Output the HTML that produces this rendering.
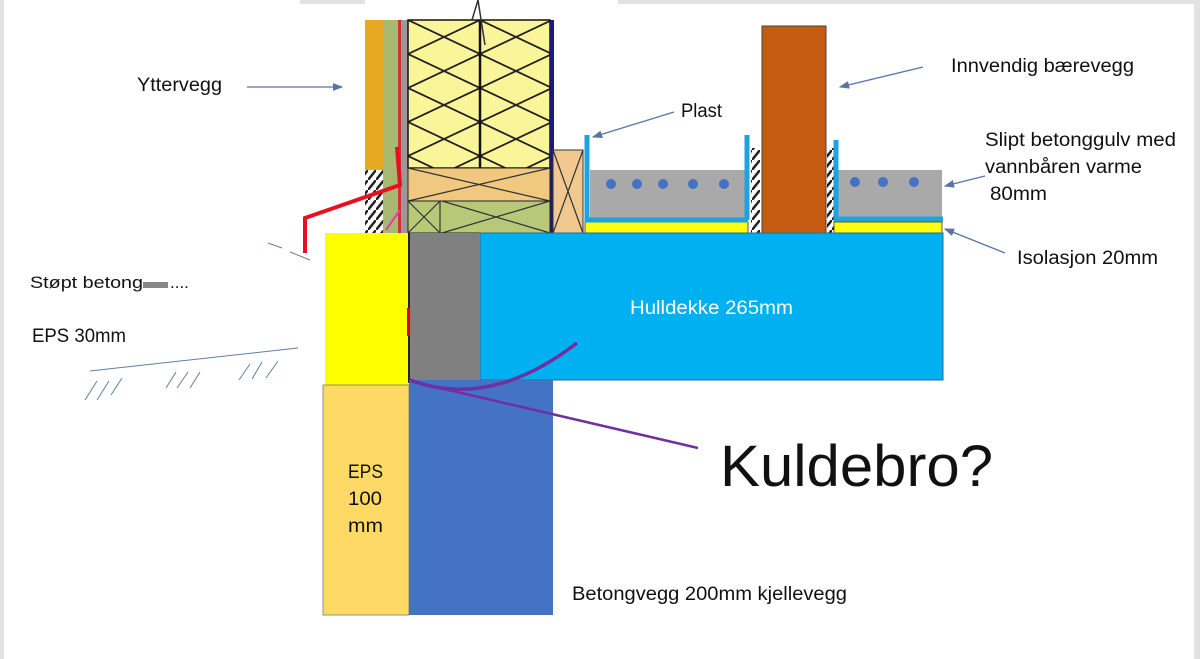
<!DOCTYPE html>
<html><head><meta charset="utf-8"><style>
html,body{margin:0;padding:0;background:#fff}
svg{display:block}
text{font-family:"Liberation Sans",sans-serif;fill:#111}
</style></head><body>
<svg width="1200" height="659" viewBox="0 0 1200 659" xmlns="http://www.w3.org/2000/svg">
<defs>
<pattern id="ins" x="408" y="20" width="72" height="34" patternUnits="userSpaceOnUse">
<rect width="72" height="34" fill="#fbf59a"/>
<path d="M0 0 L72 34 M0 34 L72 0" stroke="#222" stroke-width="1.8" fill="none"/>
</pattern>
<pattern id="hat" width="8" height="10" patternUnits="userSpaceOnUse">
<rect width="8" height="10" fill="#fff"/>
<path d="M0 10 L8 0" stroke="#222" stroke-width="2.5"/>
</pattern>
<marker id="ar" markerWidth="8" markerHeight="8" refX="7" refY="4" orient="auto"><path d="M0 1 L8 4 L0 7z" fill="#5874a6"/></marker>
</defs>
<rect x="0" y="0" width="4" height="659" fill="#e2e2e2"/>
<rect x="1194" y="0" width="6" height="659" fill="#e2e2e2"/>
<rect x="300" y="0" width="65" height="4" fill="#e2e2e2"/>
<rect x="618" y="0" width="582" height="4" fill="#e2e2e2"/>

<!-- external wall -->
<rect x="365" y="20" width="18" height="150" fill="#e8a820"/>
<rect x="365" y="170" width="18" height="63" fill="url(#hat)"/>
<rect x="383" y="20" width="15" height="213" fill="#a8b870"/>
<rect x="398" y="20" width="3" height="213" fill="#c33"/>
<rect x="401" y="20" width="7" height="213" fill="#999"/>
<rect x="408" y="20" width="142" height="148" fill="url(#ins)" stroke="#111" stroke-width="1.5"/>
<line x1="480" y1="20" x2="480" y2="168" stroke="#111" stroke-width="2.5"/>
<rect x="550" y="20" width="4" height="213" fill="#1a1a80"/>
<rect x="408" y="168" width="142" height="33" fill="#f0c880" stroke="#222"/>
<path d="M408 168 L550 201 M408 201 L550 168" stroke="#333" stroke-width="1.2"/>
<rect x="408" y="201" width="142" height="32" fill="#b8c878" stroke="#222"/>
<path d="M408 201 L440 233 M408 233 L440 201 M442 201 L550 233 M442 233 L550 201 M440 201 V233" stroke="#333" stroke-width="1.2"/>
<rect x="553" y="150" width="30" height="83" fill="#f0c890" stroke="#333"/>
<path d="M553 150 L583 233 M553 233 L583 150" stroke="#333" stroke-width="1.2"/>
<path d="M386 230 L400 210" stroke="#e040a0" stroke-width="2"/>
<path d="M478 0 L472 20 M478 0 L485 45" stroke="#333" stroke-width="1.5" fill="none"/>

<!-- left floor -->
<rect x="590" y="170" width="155" height="48" fill="#aaa9a9"/>
<rect x="585" y="222" width="163" height="11" fill="#ffff10" stroke="#333" stroke-width="0.8"/>
<path d="M587 135 V220 H748 M747 135 V220" stroke="#1fa3dc" stroke-width="5" fill="none"/>
<g fill="#4472c4"><circle cx="611" cy="184" r="5"/><circle cx="637" cy="184" r="5"/><circle cx="663" cy="184" r="5"/><circle cx="693" cy="184" r="5"/><circle cx="724" cy="184" r="5"/></g>
<!-- inner wall -->
<rect x="751" y="148" width="9" height="85" fill="url(#hat)"/>
<rect x="762" y="26" width="64" height="207" fill="#c55a11" stroke="#444"/>
<rect x="827" y="148" width="7" height="85" fill="url(#hat)"/>
<!-- right floor -->
<rect x="838" y="170" width="104" height="48" fill="#aaa9a9"/>
<rect x="834" y="222" width="108" height="11" fill="#ffff10" stroke="#333" stroke-width="0.8"/>
<path d="M836 140 V219 H943" stroke="#1fa3dc" stroke-width="5" fill="none"/>
<g fill="#4472c4"><circle cx="855" cy="182" r="5"/><circle cx="883" cy="182" r="5"/><circle cx="914" cy="182" r="5"/></g>

<!-- slab -->
<rect x="480" y="233" width="463" height="147" fill="#00b0f0" stroke="#2a6a90"/>
<rect x="410" y="233" width="70" height="147" fill="#808080"/>
<rect x="325" y="233" width="83" height="152" fill="#ffff00"/>
<rect x="408" y="233" width="2" height="150" fill="#222"/>
<rect x="323" y="385" width="86" height="230" fill="#ffd966" stroke="#777" stroke-width="0.8"/>
<rect x="409" y="380" width="144" height="235" fill="#4472c4"/>
<rect x="407" y="308" width="3" height="28" fill="#d00"/>

<!-- red line -->
<path d="M397 147 L400 185 L305 218 L305 253" stroke="#e81020" stroke-width="4" fill="none"/>

<!-- purple -->
<path d="M410 380 Q490 410 577 343" stroke="#7030a0" stroke-width="3.5" fill="none"/>
<path d="M410 381 L698 448" stroke="#7030a0" stroke-width="2.5"/>

<!-- ground -->
<path d="M90 371 L298 348" stroke="#6080a0" stroke-width="1"/>
<path d="M85 400 L97 381 M97 400 L109 381 M111 395 L122 378 M166 388 L176 372 M177 388 L188 372 M190 388 L200 372 M239 380 L250 364 M252 379 L262 362 M266 378 L278 361" stroke="#6080a0" stroke-width="1"/>
<path d="M268 243 L282 248 M290 252 L310 260" stroke="#6080a0" stroke-width="1"/>

<!-- arrows -->
<g stroke="#5874a6" stroke-width="1.3" fill="none" marker-end="url(#ar)">
<line x1="247" y1="87" x2="342" y2="87"/>
<line x1="674" y1="112" x2="593" y2="137"/>
<line x1="923" y1="67" x2="840" y2="87"/>
<line x1="985" y1="176" x2="945" y2="186"/>
<line x1="1005" y1="253" x2="945" y2="229"/>
</g>

<!-- text -->
<g font-size="19">
<text x="137" y="91" textLength="85" lengthAdjust="spacingAndGlyphs">Yttervegg</text>
<text x="681" y="117" textLength="41" lengthAdjust="spacingAndGlyphs">Plast</text>
<text x="951" y="72" textLength="183" lengthAdjust="spacingAndGlyphs">Innvendig bærevegg</text>
<text x="985" y="146" textLength="191" lengthAdjust="spacingAndGlyphs">Slipt betonggulv med</text>
<text x="985" y="173" textLength="157" lengthAdjust="spacingAndGlyphs">vannbåren varme</text>
<text x="990" y="200" textLength="57" lengthAdjust="spacingAndGlyphs">80mm</text>
<text x="1017" y="264" textLength="141" lengthAdjust="spacingAndGlyphs">Isolasjon 20mm</text>
<text x="30" y="288" font-size="17" textLength="113" lengthAdjust="spacingAndGlyphs">Støpt betong</text>
<text x="32" y="342" textLength="94" lengthAdjust="spacingAndGlyphs">EPS 30mm</text>
<text x="630" y="314" textLength="163" lengthAdjust="spacingAndGlyphs" style="fill:#fff">Hulldekke 265mm</text>
<text x="348" y="478" textLength="35" lengthAdjust="spacingAndGlyphs">EPS</text>
<text x="348" y="505" textLength="34" lengthAdjust="spacingAndGlyphs">100</text>
<text x="348" y="532" textLength="35" lengthAdjust="spacingAndGlyphs">mm</text>
<text x="572" y="600" textLength="275" lengthAdjust="spacingAndGlyphs">Betongvegg 200mm kjellevegg</text>
</g>
<rect x="143" y="282" width="25" height="6" fill="#888"/>
<text x="170" y="288" font-size="17">....</text>
<text x="720" y="486" font-size="58" textLength="273" lengthAdjust="spacingAndGlyphs">Kuldebro?</text>
</svg>
</body></html>
